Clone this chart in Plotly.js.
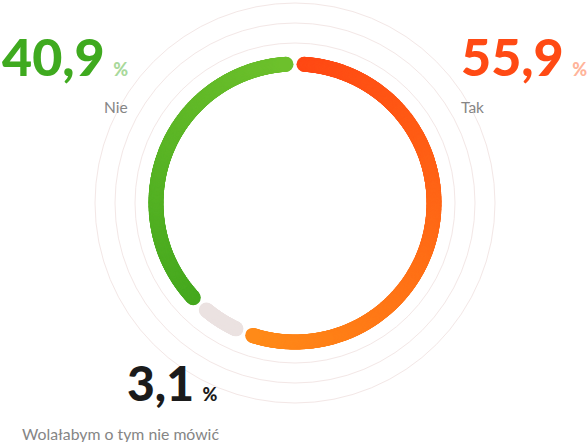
<!DOCTYPE html>
<html>
<head>
<meta charset="utf-8">
<script src="https://cdn.plot.ly/plotly-3.0.1.min.js"></script>
<style>html,body{margin:0;padding:0;background:#fff;}#chart{width:588px;height:442px;}</style>
</head>
<body>
<div id="chart"></div>
<script>
// ---- data ----
const categories = ['Tak', 'Wolałabym o tym nie mówić', 'Nie'];
const values = [55.9, 3.1, 40.9];
const valueLabels = ['55,9', '3,1', '40,9'];
const gradStart = ['#ff4814', '#ebe2e1', '#45a81e'];
const gradEnd   = ['#ff8a18', '#ebe2e1', '#6dc02c'];
const numberColors = ['#ff4a14', '#1b1b1b', '#3faa1f'];
const percentColors = ['#ffb49a', '#1b1b1b', '#a9d99b'];

// ---- geometry helpers (rendering only) ----
const ringR = 139;
const gapDeg = 7.4;
const minSpan = 14.5;
const total = values.reduce((a, b) => a + b, 0);

const traces = [];
let cum = 0, prevEnd = -Infinity;
values.forEach((v, i) => {
  const cs = cum / total * 360, ce = (cum + v) / total * 360;
  cum += v;
  const start = Math.max(cs + gapDeg / 2, prevEnd + gapDeg);
  const end = Math.max(ce - gapDeg / 2, start + minSpan);
  prevEnd = end;
  const n = Math.ceil((end - start) * 3) + 1;
  const th = [], rr = [];
  for (let k = 0; k < n; k++) { th.push(start + (end - start) * k / (n - 1)); rr.push(ringR); }
  traces.push({
    type: 'scatterpolar', mode: 'markers', r: rr, theta: th, name: categories[i],
    hoverinfo: 'skip', showlegend: false,
    marker: { size: 15, color: th, cmin: start, cmax: end, showscale: false,
      colorscale: [[0, gradStart[i]], [1, gradEnd[i]]], line: { width: 0 } }
  });
});

const W = 588, H = 442;
const px = x => x / W, py = y => 1 - y / H;
const fam = 'Lato, "Open Sans", sans-serif';

function numText(i, pctSize) {
  return valueLabels[i] + '<span style="font-size:' + pctSize + 'px;color:' + percentColors[i] + '">\u00a0\u00a0%</span>';
}

const annotations = [
  { text: numText(2, 18), x: px(129), y: py(56), xanchor: 'right', yanchor: 'middle',
    font: { family: fam, size: 52, weight: 900, color: numberColors[2] } },
  { text: categories[2], x: px(129), y: py(107), xanchor: 'right', yanchor: 'middle',
    font: { family: fam, size: 15.5, color: '#858585' } },
  { text: numText(0, 18), x: px(460), y: py(56), xanchor: 'left', yanchor: 'middle',
    font: { family: fam, size: 52, weight: 900, color: numberColors[0] } },
  { text: categories[0], x: px(460), y: py(107), xanchor: 'left', yanchor: 'middle',
    font: { family: fam, size: 15.5, color: '#858585' } },
  { text: numText(1, 18), x: px(219), y: py(382), xanchor: 'right', yanchor: 'middle',
    font: { family: fam, size: 48, weight: 900, color: numberColors[1] } },
  { text: categories[1], x: px(220), y: py(433), xanchor: 'right', yanchor: 'middle',
    font: { family: fam, size: 15.8, color: '#858585' } }
].map(a => Object.assign({ xref: 'paper', yref: 'paper', showarrow: false, borderpad: 0 }, a));

const layout = {
  width: W, height: H, margin: { l: 0, r: 0, t: 0, b: 0 },
  paper_bgcolor: '#ffffff', showlegend: false,
  polar: {
    domain: { x: [95 / W, 495 / W], y: [39 / H, 439 / H] },
    bgcolor: 'rgba(0,0,0,0)',
    radialaxis: { range: [0, 200], tickvals: [160, 180], showticklabels: false, ticks: '',
      showline: false, gridcolor: '#f3e7e6', gridwidth: 1 },
    angularaxis: { rotation: 90, direction: 'clockwise', showgrid: false, showticklabels: false,
      ticks: '', showline: true, linecolor: '#f3e7e6', linewidth: 1 }
  },
  annotations: annotations
};

Plotly.newPlot('chart', traces, layout, { displayModeBar: false, staticPlot: true });
</script>
</body>
</html>
